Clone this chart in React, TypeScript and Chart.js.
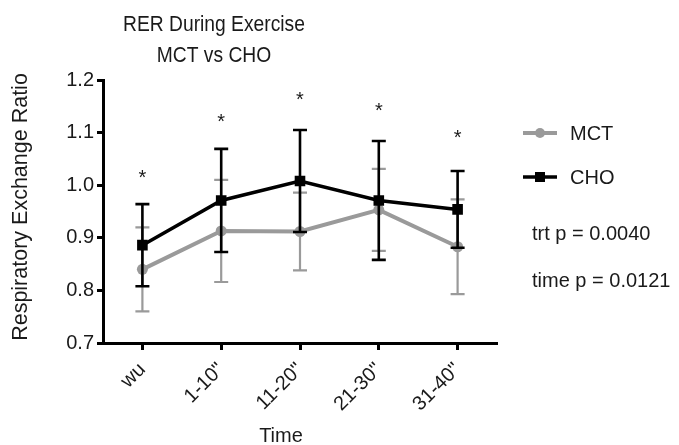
import { useEffect, useRef } from 'react';
import { Chart, registerables } from 'chart.js';

Chart.register(...registerables);

const categories = ['wu', '1-10"', '11-20"', '21-30"', '31-40"'];
const mctMean = [0.84, 0.913, 0.912, 0.953, 0.883];
const mctErr = [0.08, 0.097, 0.074, 0.078, 0.09];
const choMean = [0.886, 0.971, 1.008, 0.971, 0.954];
const choErr = [0.078, 0.098, 0.097, 0.113, 0.073];
const starY = [1.019, 1.124, 1.167, 1.145, 1.095];
const titleLines = ['RER During Exercise', 'MCT vs CHO'];
const statsLines = ['trt p = 0.0040', 'time p = 0.0121'];
const seriesNames = ['MCT', 'CHO'];
const yTitle = 'Respiratory Exchange Ratio';
const xTitle = 'Time';

const FONT = '"Liberation Sans", Arial, Helvetica, sans-serif';
const TEXT = '#1a1a1a';
const GRAY = '#9a9a9a';
const BLACK = '#000000';

const errArrays = [mctErr, choErr];
const errColors = [GRAY, BLACK];
const errWidths = [2.2, 2.6];

const errorBarPlugin = {
  id: 'errorBars',
  beforeDatasetDraw(chart: any, args: any) {
    const idx = args.index;
    const errs = errArrays[idx];
    if (!errs) return;
    const means = chart.data.datasets[idx].data as number[];
    const xs = chart.scales.x;
    const ys = chart.scales.y;
    const ctx = chart.ctx;
    ctx.save();
    ctx.strokeStyle = errColors[idx];
    ctx.lineWidth = errWidths[idx];
    for (let i = 0; i < means.length; i++) {
      const x = xs.getPixelForValue(i);
      const yt = ys.getPixelForValue(means[i] + errs[i]);
      const yb = ys.getPixelForValue(means[i] - errs[i]);
      ctx.beginPath();
      ctx.moveTo(x, yt);
      ctx.lineTo(x, yb);
      ctx.moveTo(x - 7, yt);
      ctx.lineTo(x + 7, yt);
      ctx.moveTo(x - 7, yb);
      ctx.lineTo(x + 7, yb);
      ctx.stroke();
    }
    ctx.restore();
  },
};

const annotationPlugin = {
  id: 'annotations',
  afterDraw(chart: any) {
    const ctx = chart.ctx;
    const xs = chart.scales.x;
    const ys = chart.scales.y;
    ctx.save();
    ctx.fillStyle = TEXT;
    // asterisks
    ctx.font = `20px ${FONT}`;
    ctx.textAlign = 'center';
    ctx.textBaseline = 'alphabetic';
    for (let i = 0; i < starY.length; i++) {
      ctx.fillText('*', xs.getPixelForValue(i), ys.getPixelForValue(starY[i]) + 8.5);
    }
    // title (slightly condensed)
    ctx.save();
    ctx.translate(214, 0);
    ctx.scale(0.875, 1);
    ctx.font = `22px ${FONT}`;
    ctx.fillText(titleLines[0], 0, 31);
    ctx.fillText(titleLines[1], 0, 62);
    ctx.restore();
    // x title
    ctx.font = `20px ${FONT}`;
    ctx.fillText(xTitle, 281, 442);
    // y title
    ctx.save();
    ctx.translate(27, 207);
    ctx.rotate(-Math.PI / 2);
    ctx.font = `21.5px ${FONT}`;
    ctx.fillText(yTitle, 0, 0);
    ctx.restore();
    // legend
    ctx.font = `20px ${FONT}`;
    ctx.textAlign = 'left';
    ctx.strokeStyle = GRAY;
    ctx.lineWidth = 4;
    ctx.beginPath();
    ctx.moveTo(523, 133);
    ctx.lineTo(557, 133);
    ctx.stroke();
    ctx.fillStyle = GRAY;
    ctx.beginPath();
    ctx.arc(540, 133, 5, 0, Math.PI * 2);
    ctx.fill();
    ctx.strokeStyle = BLACK;
    ctx.lineWidth = 3.5;
    ctx.beginPath();
    ctx.moveTo(523, 177);
    ctx.lineTo(557, 177);
    ctx.stroke();
    ctx.fillStyle = BLACK;
    ctx.fillRect(535, 172, 10, 10);
    ctx.fillStyle = TEXT;
    ctx.fillText(seriesNames[0], 570, 140);
    ctx.fillText(seriesNames[1], 570, 184);
    ctx.fillText(statsLines[0], 532, 240);
    ctx.fillText(statsLines[1], 532, 287);
    ctx.restore();
  },
};

export default function App() {
  const ref = useRef<HTMLCanvasElement | null>(null);
  useEffect(() => {
    if (!ref.current) return;
    const chart = new Chart(ref.current, {
      type: 'line',
      data: {
        labels: categories,
        datasets: [
          {
            label: seriesNames[0],
            data: mctMean,
            borderColor: GRAY,
            backgroundColor: GRAY,
            borderWidth: 4,
            pointStyle: 'circle',
            pointRadius: 5.5,
            pointBackgroundColor: GRAY,
            pointBorderColor: GRAY,
            pointBorderWidth: 0,
            tension: 0,
            order: 2,
          },
          {
            label: seriesNames[1],
            data: choMean,
            borderColor: BLACK,
            backgroundColor: BLACK,
            borderWidth: 3.5,
            pointStyle: 'rect',
            pointRadius: 7.5,
            pointBackgroundColor: BLACK,
            pointBorderColor: BLACK,
            pointBorderWidth: 0,
            tension: 0,
            order: 1,
          },
        ],
      },
      options: {
        animation: false,
        responsive: false,
        events: [],
        layout: { padding: { left: 0, right: 182, top: 80, bottom: 0 } },
        plugins: {
          legend: { display: false },
          title: { display: false },
          tooltip: { enabled: false },
        },
        scales: {
          x: {
            type: 'category',
            offset: true,
            grid: {
              display: true,
              drawOnChartArea: false,
              drawTicks: true,
              tickLength: 7,
              tickWidth: 3,
              tickColor: BLACK,
              offset: false,
            },
            border: { display: true, color: BLACK, width: 3 },
            ticks: {
              font: { family: FONT, size: 20 },
              color: TEXT,
              minRotation: 45,
              maxRotation: 45,
              padding: 8,
              autoSkip: false,
            },
            afterFit: (s: any) => {
              s.height = 102;
            },
          },
          y: {
            min: 0.7,
            max: 1.2,
            ticks: {
              stepSize: 0.1,
              font: { family: FONT, size: 20 },
              color: TEXT,
              padding: 3,
              callback: (v: any) => Number(v).toFixed(1),
            },
            grid: {
              display: true,
              drawOnChartArea: false,
              drawTicks: true,
              tickLength: 6,
              tickWidth: 3,
              tickColor: BLACK,
            },
            border: { display: true, color: BLACK, width: 3 },
            afterFit: (s: any) => {
              s.width = 103;
            },
          },
        },
      },
      plugins: [errorBarPlugin, annotationPlugin],
    });
    return () => chart.destroy();
  }, []);
  return (
    <div style={{ position: 'fixed', left: 0, top: 0, width: 679, height: 445, background: '#fff' }}>
      <canvas ref={ref} width={679} height={445} style={{ display: 'block', width: 679, height: 445 }} />
    </div>
  );
}
